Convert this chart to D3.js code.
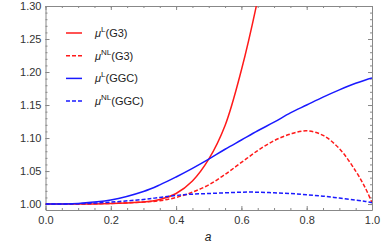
<!DOCTYPE html>
<html lang="en">
<head>
  <meta charset="UTF-8">
  <title>mu curves</title>
  <script src="https://d3js.org/d3.v7.min.js"></script>
  <style>
    body { margin: 0; background: #fff; }
    svg { display: block; font-family: "Liberation Sans", Arial, sans-serif; }
    .axis text { font-size: 11px; fill: #333; }
    .axis path, .axis line { stroke: #888; }
    .legend text { font-size: 11px; fill: #222; }
  </style>
</head>
<body>
  <svg width="382" height="247"></svg>
  <script>
    const aVals = [0, 0.1, 0.2, 0.3, 0.35, 0.4, 0.45, 0.5, 0.55, 0.6, 0.65, 0.7, 0.75, 0.8, 0.85, 0.9, 0.95, 0.98, 1.0];
    // null = off the top of the chart
    const muL_G3   = [1.000, 1.000, 1.001, 1.003, 1.007, 1.016, 1.035, 1.068, 1.119, 1.203, 1.310, 1.440, 1.600, null, null, null, null, null, null];
    const muNL_G3  = [1.000, 1.000, 1.001, 1.003, 1.005, 1.010, 1.018, 1.029, 1.045, 1.063, 1.081, 1.096, 1.106, 1.111, 1.104, 1.084, 1.050, 1.024, 1.002];
    const muL_GGC  = [1.000, 1.001, 1.006, 1.019, 1.029, 1.041, 1.054, 1.068, 1.083, 1.097, 1.111, 1.124, 1.138, 1.150, 1.162, 1.173, 1.183, 1.188, 1.191];
    const muNL_GGC = [1.000, 1.0005, 1.003, 1.007, 1.010, 1.013, 1.015, 1.016, 1.017, 1.018, 1.018, 1.017, 1.016, 1.014, 1.012, 1.009, 1.006, 1.004, 1.002];

    const xTicks = [0, 0.2, 0.4, 0.6, 0.8, 1.0];
    const yTicks = [1.00, 1.05, 1.10, 1.15, 1.20, 1.25, 1.30];

    const series = [
      { name: "G3",  sup: "L",  values: muL_G3,   color: "#ff1a1a", dash: null },
      { name: "G3",  sup: "NL", values: muNL_G3,  color: "#ff1a1a", dash: "4,2" },
      { name: "GGC", sup: "L",  values: muL_GGC,  color: "#1a1aff", dash: null },
      { name: "GGC", sup: "NL", values: muNL_GGC, color: "#1a1aff", dash: "4,2" }
    ];

    const svg = d3.select("svg"),
          margin = {top: 6, right: 10, bottom: 37, left: 45.5},
          width = +svg.attr("width") - margin.left - margin.right,
          height = +svg.attr("height") - margin.top - margin.bottom;

    const g = svg.append("g")
                 .attr("transform", `translate(${margin.left},${margin.top})`);

    const x = d3.scaleLinear().domain([0, 1]).range([0, width]);
    const y = d3.scaleLinear().domain([0.991, 1.30]).range([height, 0]);

    const minorX = d3.range(0, 1.0001, 0.05);
    const minorY = d3.range(1.00, 1.3001, 0.01);

    // minor ticks, all four sides
    const addMinor = (axis, transform) => {
      g.append("g").attr("class", "axis").attr("transform", transform)
        .call(axis.tickFormat("")).call(s => s.select(".domain").remove());
    };
    addMinor(d3.axisBottom(x).tickValues(minorX).tickSize(-2), `translate(0,${height})`);
    addMinor(d3.axisTop(x).tickValues(minorX).tickSize(-2), "translate(0,0)");
    addMinor(d3.axisLeft(y).tickValues(minorY).tickSize(-2), "translate(0,0)");
    addMinor(d3.axisRight(y).tickValues(minorY).tickSize(-2), `translate(${width},0)`);

    // X Axis
    g.append("g").attr("class", "axis")
      .attr("transform", `translate(0,${height})`)
      .call(d3.axisBottom(x).tickValues(xTicks).tickSize(-4).tickSizeOuter(0).tickPadding(6)
        .tickFormat(d3.format(".1f")));
    g.append("g").attr("class", "axis")
      .call(d3.axisTop(x).tickValues(xTicks).tickSize(-4).tickSizeOuter(0).tickFormat(""));

    // Y Axis
    g.append("g").attr("class", "axis")
      .call(d3.axisLeft(y).tickValues(yTicks).tickSize(-4).tickSizeOuter(0).tickPadding(4)
        .tickFormat(d3.format(".2f")));
    g.append("g").attr("class", "axis")
      .attr("transform", `translate(${width},0)`)
      .call(d3.axisRight(y).tickValues(yTicks).tickSize(-4).tickSizeOuter(0).tickFormat(""));

    g.selectAll(".axis text").attr("font-size", 11);

    // Curves
    svg.append("clipPath").attr("id", "clip")
      .append("rect").attr("width", width).attr("height", height);

    const line = d3.line()
      .defined(d => d !== null)
      .x((d, i) => x(aVals[i]))
      .y(d => y(d))
      .curve(d3.curveCatmullRom.alpha(0.5));

    g.append("g").attr("clip-path", "url(#clip)")
      .selectAll("path")
      .data(series)
      .enter()
      .append("path")
        .attr("d", d => line(d.values))
        .attr("fill", "none")
        .attr("stroke", d => d.color)
        .attr("stroke-width", 1.5)
        .attr("stroke-dasharray", d => d.dash);

    // Legend
    const legend = svg.append("g").attr("class", "legend");
    series.forEach((s, i) => {
      const ly = 33 + i * 22.7;
      legend.append("line")
        .attr("x1", 66).attr("x2", 82).attr("y1", ly).attr("y2", ly)
        .attr("stroke", s.color).attr("stroke-width", 1.5)
        .attr("stroke-dasharray", s.dash);
      const t = legend.append("text").attr("x", 95).attr("y", ly + 4);
      t.append("tspan").attr("font-style", "italic").text("μ");
      t.append("tspan").attr("font-size", 8).attr("dy", -5).text(s.sup);
      t.append("tspan").attr("dy", 5).text(`(${s.name})`);
    });

    // Axis Labels
    svg.append("text")
       .attr("x", 208)
       .attr("y", 241)
       .attr("text-anchor", "middle")
       .attr("font-style", "italic")
       .attr("font-size", 12)
       .attr("fill", "#222")
       .text("a");
  </script>
</body>
</html>
